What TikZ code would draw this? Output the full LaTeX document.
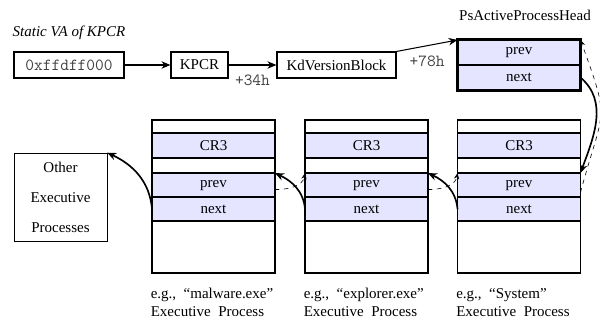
\documentclass[tikz,border=0pt]{standalone}
\usepackage{fontspec}
\setmainfont{Liberation Serif}
\usetikzlibrary{positioning,arrows.meta}

\newcommand{\addrfont}{\fontsize{11.3pt}{13pt}\ttfamily\color{black!75}}

\tikzset{
    cell/.style={draw, line width=0.9pt, minimum width=82pt, inner sep=0pt, outer sep=0pt},
    field/.style={cell, fill=blue!10},
    plainbox/.style={draw, thick, minimum height=17.3pt, inner sep=2pt},
    link/.style={-{Stealth[length=6pt, width=5pt]}, line width=1.1pt},
    backlink/.style={-{Stealth[length=4pt, width=3.5pt]}, dashed, thin},
}

\begin{document}
\begin{tikzpicture}[x=0.667pt, y=0.667pt]

    \useasboundingbox (0,0) rectangle (600,-327);

    % Top row: from the static address to the list head
    \node[font=\itshape] (static) at (69,-33) {Static VA of KPCR};
    \node[plainbox, minimum width=73.4pt, font=\addrfont] (va) at (69,-65) {0xffdff000};
    \node[plainbox, minimum width=38pt] (kpcr) at (199.5,-65) {KPCR};
    \node[plainbox, minimum width=79.4pt] (kdv) at (336.5,-65) {KdVersionBlock};

    % List head
    \node (headlabel) at (525,-15) {PsActiveProcessHead};
    \node[field, minimum height=16.7pt] (hprev) at (519,-52.5) {prev};
    \node[field, minimum height=16.7pt, below=0pt of hprev] (hnext) {next};
    \draw[line width=2pt] (hprev.north west) rectangle (hnext.south east);

    % Executive process blocks
    \foreach \i/\x/\name in {1/213.5/{``malware.exe''}, 2/366.5/{``explorer.exe''}, 3/519/{``System''}} {
        \node[cell, minimum height=8.7pt, anchor=north] (top\i) at (\x,-120) {};
        \node[field, minimum height=16.7pt, below=0pt of top\i] (crthree\i) {CR3};
        \node[cell, minimum height=10pt, below=0pt of crthree\i] (gap\i) {};
        \node[field, minimum height=16pt, below=0pt of gap\i] (prev\i) {prev};
        \node[field, minimum height=16pt, below=0pt of prev\i] (next\i) {next};
        \node[cell, minimum height=34.7pt, below=0pt of next\i] (body\i) {};
        \node[below=10pt of body\i.south west, anchor=north west, align=left, inner sep=0pt, xshift=-1pt] (desc\i)
            {e.g.,~\ \name\\Executive~\ Process};
    }

    \node[draw, thin, minimum width=62pt, minimum height=58.7pt, align=center] (other) at (60.5,-197)
        {Other\\[8pt]Executive\\[8pt]Processes};

    % Straight pointers
    \draw[link, line width=0.7pt] (va) -- (kpcr);
    \draw[link, line width=0.7pt] (kpcr) -- node[below=3pt, font=\addrfont] {+34h} (kdv);
    \draw[link, line width=0.7pt] (kdv.north east) -- node[below=3pt, font=\addrfont] {+78h} (hprev.north west);

    % Forward links (next)
    \draw[link] (hnext.east) to[out=-40, in=70] (prev3.north east);
    \draw[link] (next3.west) to[out=95, in=-25] (prev2.north east);
    \draw[link] (next2.west) to[out=95, in=-25] (prev1.north east);
    \draw[link] (next1.west) to[out=95, in=-25] (other.north east);

    % Backward links (prev)
    \draw[backlink] ([yshift=-5pt]prev3.east) to[out=75, in=-70, looseness=1.5] (hprev.north east);
    \draw[backlink] ([yshift=-3pt]prev2.east) to[out=0, in=-100] (prev3.north west);
    \draw[backlink] ([yshift=-3pt]prev1.east) to[out=0, in=-100] (prev2.north west);

\end{tikzpicture}
\end{document}
